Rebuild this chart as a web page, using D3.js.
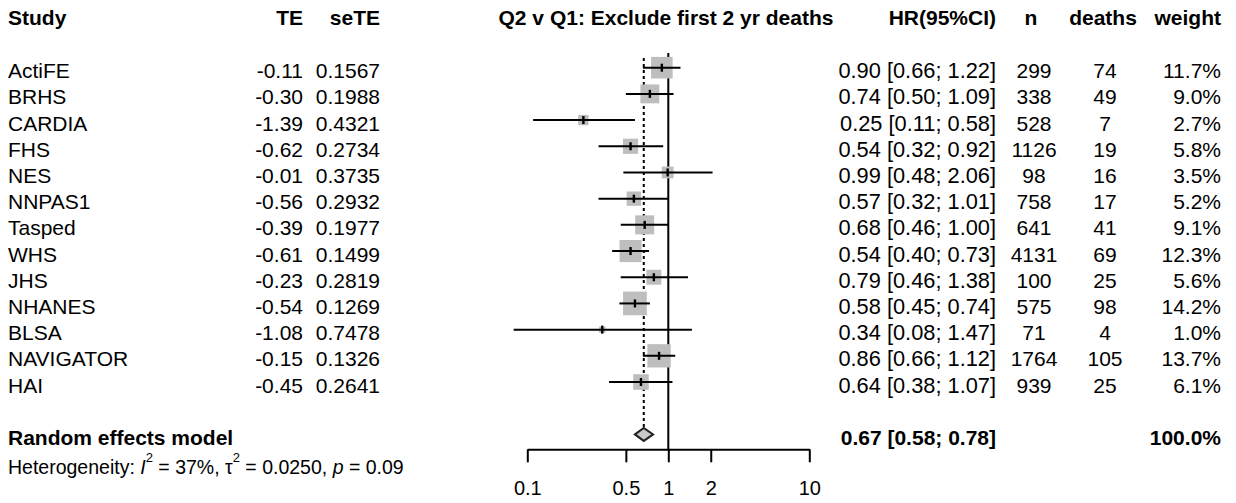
<!DOCTYPE html>
<html>
<head>
<meta charset="utf-8">
<script src="https://cdn.jsdelivr.net/npm/d3@7"></script>
<style>
  body { margin: 0; background: #fff; }
  svg text { font-family: "Liberation Sans", Arial, sans-serif; fill: #000; }
</style>
</head>
<body>
<div class="graphics"></div>
<script>
// data
const studies = ["ActiFE", "BRHS", "CARDIA", "FHS", "NES", "NNPAS1", "Tasped", "WHS", "JHS", "NHANES", "BLSA", "NAVIGATOR", "HAI"];
const te = ["-0.11", "-0.30", "-1.39", "-0.62", "-0.01", "-0.56", "-0.39", "-0.61", "-0.23", "-0.54", "-1.08", "-0.15", "-0.45"];
const seTE = ["0.1567", "0.1988", "0.4321", "0.2734", "0.3735", "0.2932", "0.1977", "0.1499", "0.2819", "0.1269", "0.7478", "0.1326", "0.2641"];
const hr = [0.90, 0.74, 0.25, 0.54, 0.99, 0.57, 0.68, 0.54, 0.79, 0.58, 0.34, 0.86, 0.64];
const lower = [0.66, 0.50, 0.11, 0.32, 0.48, 0.32, 0.46, 0.40, 0.46, 0.45, 0.08, 0.66, 0.38];
const upper = [1.22, 1.09, 0.58, 0.92, 2.06, 1.01, 1.00, 0.73, 1.38, 0.74, 1.47, 1.12, 1.07];
const nObs = [299, 338, 528, 1126, 98, 758, 641, 4131, 100, 575, 71, 1764, 939];
const deaths = [74, 49, 7, 19, 16, 17, 41, 69, 25, 98, 4, 105, 25];
const weight = [11.7, 9.0, 2.7, 5.8, 3.5, 5.2, 9.1, 12.3, 5.6, 14.2, 1.0, 13.7, 6.1];
const pooled = { hr: 0.67, lower: 0.58, upper: 0.78 };
const ticks = [0.1, 0.5, 1, 2, 10];

const width = 1236, height = 503;
const fs = 21;
const lw = 2;

const svg = d3.select('.graphics')
  .append('svg')
  .attr('width', width)
  .attr('height', height);

const x = d3.scaleLog().domain([0.1, 10]).range([527.3, 809.3]);
// row index -> y of the line; text sits ~3px lower
const y = d3.scaleLinear().domain([0, 14]).range([67.7, 434.4]);
const txtOff = 3;

const fmt2 = d3.format(".2f");
const ciText = (h, l, u) => `${fmt2(h)} [${fmt2(l)}; ${fmt2(u)}]`;

const cols = {
  study: { x: 8, anchor: "start" },
  te: { x: 303, anchor: "end" },
  se: { x: 380, anchor: "end" },
  ci: { x: 996, anchor: "end" },
  n: { x: 1034, anchor: "middle" },
  d: { x: 1105, anchor: "middle" },
  w: { x: 1221, anchor: "end" }
};

function txt(t, c, yy, bold, size) {
  svg.append('text')
    .attr('x', c.x).attr('y', yy)
    .attr('text-anchor', c.anchor)
    .attr('dominant-baseline', 'central')
    .attr('font-size', size || fs)
    .attr('font-weight', bold ? 'bold' : 'normal')
    .text(t);
}

// headers
const hy = 17;
txt("Study", cols.study, hy, true);
txt("TE", cols.te, hy, true);
txt("seTE", cols.se, hy, true);
txt("Q2 v Q1: Exclude first 2 yr deaths", { x: 666, anchor: "middle" }, hy, true);
txt("HR(95%CI)", cols.ci, hy, true);
txt("n", { x: 1031, anchor: "middle" }, hy, true);
txt("deaths", { x: 1103, anchor: "middle" }, hy, true);
txt("weight", cols.w, hy, true);

// study rows
studies.forEach((s, i) => {
  const yy = y(i) + txtOff;
  txt(s, cols.study, yy);
  txt(te[i], cols.te, yy);
  txt(seTE[i], cols.se, yy);
  txt(ciText(hr[i], lower[i], upper[i]), cols.ci, yy, false, 21.8);
  txt(nObs[i], cols.n, yy);
  txt(deaths[i], cols.d, yy);
  txt(weight[i].toFixed(1) + "%", cols.w, yy);
});

// pooled row
txt("Random effects model", cols.study, y(14) + txtOff, true);
txt(ciText(pooled.hr, pooled.lower, pooled.upper), cols.ci, y(14) + txtOff, true);
txt("100.0%", cols.w, y(14) + txtOff, true);

// heterogeneity line
const het = svg.append('text')
  .attr('x', 8).attr('y', 467)
  .attr('dominant-baseline', 'central')
  .attr('font-size', 19.5);
het.append('tspan').text("Heterogeneity: ");
het.append('tspan').attr('font-style', 'italic').text("I");
het.append('tspan').attr('font-size', 13).attr('dy', -10).text("2");
het.append('tspan').attr('dy', 10).text(" = 37%, \u03C4");
het.append('tspan').attr('font-size', 13).attr('dy', -10).text("2");
het.append('tspan').attr('dy', 10).text(" = 0.0250, ");
het.append('tspan').attr('font-style', 'italic').text("p");
het.append('tspan').text(" = 0.09");

const axisY = 449.3;
const plot = svg.append('g');

// reference line at 1 and dotted line at pooled estimate
plot.append('line')
  .attr('x1', x(1)).attr('x2', x(1))
  .attr('y1', 53).attr('y2', axisY)
  .attr('stroke', '#000').attr('stroke-width', lw);
plot.append('line')
  .attr('x1', x(pooled.hr)).attr('x2', x(pooled.hr))
  .attr('y1', 58).attr('y2', y(14) - 6)
  .attr('stroke', '#000').attr('stroke-width', lw)
  .attr('stroke-dasharray', '3,3');

const rows = studies.map((s, i) => ({ i, hr: hr[i], lo: lower[i], hi: upper[i], w: weight[i] }));

// boxes
plot.append('g')
  .attr('fill', '#bebebe')
  .selectAll('rect')
  .data(rows)
  .join('rect')
  .attr('x', d => x(d.hr) - 3.15 * Math.sqrt(d.w))
  .attr('y', d => y(d.i) - 3.15 * Math.sqrt(d.w))
  .attr('width', d => 6.3 * Math.sqrt(d.w))
  .attr('height', d => 6.3 * Math.sqrt(d.w));

// confidence intervals
plot.append('g')
  .attr('stroke', '#000').attr('stroke-width', lw)
  .selectAll('line')
  .data(rows)
  .join('line')
  .attr('x1', d => x(d.lo)).attr('x2', d => x(d.hi))
  .attr('y1', d => y(d.i)).attr('y2', d => y(d.i));

// estimate ticks
plot.append('g')
  .attr('stroke', '#000').attr('stroke-width', 2.4)
  .selectAll('line')
  .data(rows)
  .join('line')
  .attr('x1', d => x(d.hr)).attr('x2', d => x(d.hr))
  .attr('y1', d => y(d.i) - 4).attr('y2', d => y(d.i) + 4);

// diamond
const dy0 = y(14), dh = 6.5;
plot.append('polygon')
  .attr('points', [
    [x(pooled.lower), dy0], [x(pooled.hr), dy0 - dh],
    [x(pooled.upper), dy0], [x(pooled.hr), dy0 + dh]
  ].map(p => p.join(',')).join(' '))
  .attr('fill', '#c8c8c8').attr('stroke', '#222').attr('stroke-width', lw);

// axis
const axis = d3.axisBottom(x)
  .tickValues(ticks)
  .tickFormat(d => String(d))
  .tickSize(13)
  .tickSizeOuter(0)
  .tickPadding(19);

const ax = svg.append('g')
  .attr('transform', `translate(0,${axisY})`)
  .call(axis);
ax.select('.domain').attr('stroke-width', lw);
ax.selectAll('.tick line').attr('stroke-width', lw);
ax.selectAll('.tick text')
  .attr('font-size', 20)
  .attr('font-family', '"Liberation Sans", Arial, sans-serif')
  .attr('fill', '#000');
</script>
</body>
</html>
